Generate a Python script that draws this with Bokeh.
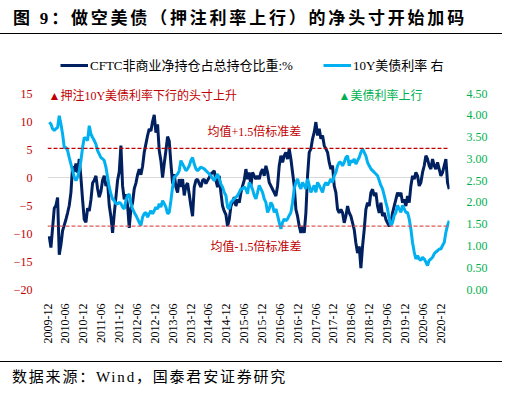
import math
import pandas as pd
from bokeh.plotting import figure
from bokeh.layouts import column
from bokeh.models import (Range1d, LinearAxis, FixedTicker, Span, Label, Legend, LegendItem,
                          DatetimeTickFormatter, NumeralTickFormatter, Div)
from bokeh.embed import file_html
from bokeh.resources import INLINE

# ---------------- data ----------------
title_text = "图 9：做空美债（押注利率上行）的净头寸开始加码"
source_text = "数据来源：Wind，国泰君安证券研究"
series_names = ["CFTC非商业净持仓占总持仓比重:%", "10Y美债利率 右"]
note_left = "▲押注10Y美债利率下行的头寸上升"
note_right = "▲美债利率上行"
band_upper_text = "均值+1.5倍标准差"
band_lower_text = "均值-1.5倍标准差"

tick_labels = ["2009-12", "2010-06", "2010-12", "2011-06", "2011-12", "2012-06",
               "2012-12", "2013-06", "2013-12", "2014-06", "2014-12", "2015-06",
               "2015-12", "2016-06", "2016-12", "2017-06", "2017-12", "2018-06",
               "2018-12", "2019-06", "2019-12", "2020-06", "2020-12"]
left_ticks = [-20, -15, -10, -5, 0, 5, 10, 15]
right_ticks = [0.0, 0.5, 1.0, 1.5, 2.0, 2.5, 3.0, 3.5, 4.0, 4.5]

first_date = "2009-12-18"
last_date = "2021-02-26"

cftc_net_pct = [
    -10.5, -12.5, -9, -5.5, -5, -3.6, -13.8, -12, -9.5, -8.5,
    -7.5, -6.3, -5, -2.7, 2.0, 1.0, 2.5, 0.9, 3.3, 0,
    -4, -7.5, -8, -5.5, -6, -4, -1, -0.5, 0.3, -2,
    -3.5, -2.5, -0.5, 0.3, -1.5, -0.8, -5, -7, -9.9, -6.5,
    -3.5, -0.5, 1, 5.7, -1.5, -3.9, -3, -5, -9, -5.5,
    -4.5, -2, -1, 0.5, 1.5, 0.5, 2, 4.5, 6, 7.5,
    8.7, 8.3, 10, 11.2, 8, 9.5, 4.8, 3, 0, 2.5,
    4.8, 7.3, 6.5, 2.5, -1.1, 0.6, -1.7, -2.7, -0.3, -1.7,
    -0.3, -3.2, -1.5, -1, -3, -5.1, -6.9, -1.7, -0.5, -0.3,
    -1.1, -1.7, -0.5, -0.3, -1.1, -0.5, 0, 0.6, 0.9, 1.2,
    -0.5, -1.7, 0.3, -2.7, -5.1, -6, -6.6, -8.7, -7.5, -5.1,
    -4.5, -3.5, -5.1, -3.9, -4.5, -2.7, -1.5, -0.5, 1.5, -0.3,
    0.9, -1.5, 0.9, 0.3, -0.3, 0.3, -0.3, 0.9, 1.5, 0.3,
    2.1, 0.9, -0.9, -1.5, -2.1, -2.7, -3.3, -1.5, 2.1, 3.9,
    2.7, 3.9, 4.5, 3.3, 5.1, 3.3, 0.9, -1.5, -5.7, -6.9,
    -8.7, -9.9, -8.7, -9.9, -6.3, 0.3, 4.5, 5.1, 6.9, 8.1,
    9.9, 7.5, 8.7, 6.9, 7.5, 5.7, 5.1, 4.5, 2.7, 1.5,
    2.1, -1.5, -2.7, -5.7, -6.3, -5.7, -6.3, -8.1, -6.9, -5.1,
    -6.3, -6.9, -8.1, -9.3, -11.7, -13.5, -12.3, -16.2, -12.3, -9.3,
    -5.7, -4.5, -5.1, -2.7, -2.1, -3.3, -2.7, -5.1, -6.3, -4.5,
    -6.9, -6.3, -7.5, -8.1, -8.7, -8.1, -6.3, -5.1, -3.9, -2.7,
    -3.3, -2.7, -4.5, -3.9, -5.1, -3.3, -4.5, -1.5, 0.3, -0.3,
    0.9, 0.3, -1.5, -0.9, 0.9, 2.1, 3.9, 3.3, 2.1, 1.5,
    3.3, 2.1, 1.5, 2.7, 1.5, 0.3, 0.9, 2.1, 3.3, -0.9,
    -2.1,
]

ust10y_yield = [
    3.84, 3.80, 3.69, 3.65, 3.69, 3.72, 3.99, 3.80, 3.57, 3.26,
    3.26, 3.19, 3.03, 2.88, 2.73, 2.58, 2.50, 2.58, 2.73, 2.96,
    3.26, 3.49, 3.46, 3.42, 3.76, 3.57, 3.49, 3.42, 3.34, 3.19,
    3.11, 3.03, 3.00, 2.96, 2.81, 2.58, 2.35, 2.19, 2.08, 2.04,
    1.97, 1.97, 2.00, 1.97, 1.89, 1.85, 2.04, 2.16, 2.19, 1.97,
    1.85, 1.77, 1.70, 1.62, 1.54, 1.47, 1.66, 1.74, 1.77, 1.66,
    1.74, 1.81, 1.74, 1.81, 1.89, 1.85, 1.97, 1.89, 2.04, 1.97,
    1.89, 1.74, 1.77, 2.04, 2.35, 2.58, 2.61, 2.65, 2.73, 2.96,
    2.88, 2.81, 2.73, 2.77, 2.84, 2.96, 3.03, 2.88, 2.77, 2.73,
    2.77, 2.81, 2.79, 2.77, 2.73, 2.69, 2.65, 2.61, 2.55, 2.50,
    2.58, 2.65, 2.54, 2.42, 2.35, 2.23, 2.16, 1.89, 1.85, 2.00,
    2.04, 2.08, 2.12, 2.16, 2.23, 2.31, 2.31, 2.35, 2.31, 2.20,
    2.46, 2.39, 2.30, 2.16, 2.08, 2.23, 2.39, 2.31, 2.23, 2.08,
    2.00, 1.77, 1.85, 2.00, 1.93, 1.77, 1.85, 1.70, 1.54, 1.39,
    1.54, 1.62, 1.58, 1.62, 1.70, 1.77, 2.00, 2.31, 2.46, 2.54,
    2.39, 2.31, 2.46, 2.39, 2.31, 2.54, 2.39, 2.23, 2.31, 2.39,
    2.23, 2.46, 2.39, 2.31, 2.23, 2.39, 2.46, 2.39, 2.46, 2.54,
    2.46, 2.61, 2.69, 2.84, 2.92, 2.92, 2.84, 2.92, 3.03, 3.07,
    2.84, 2.96, 2.92, 3.00, 2.88, 2.96, 3.03, 3.15, 3.23, 3.15,
    3.07, 2.92, 2.84, 2.77, 2.73, 2.69, 2.65, 2.61, 2.50, 2.39,
    2.31, 2.16, 2.00, 1.85, 1.62, 1.47, 1.54, 1.70, 1.77, 1.93,
    1.85, 1.77, 1.93, 1.85, 1.77, 1.77, 1.62, 1.39, 1.08, 0.86,
    0.70, 0.78, 0.70, 0.67, 0.74, 0.70, 0.63, 0.55, 0.67, 0.70,
    0.74, 0.82, 0.86, 0.89, 0.93, 0.93, 1.01, 1.08, 1.31, 1.47,
    1.58,
]

band_upper = 5.2
band_lower = -8.7

assert len(cftc_net_pct) == len(ust10y_yield)
dates = pd.date_range(first_date, last_date, periods=len(cftc_net_pct))
tick_ms = [int(pd.Timestamp(t + "-01").value // 10**6) for t in tick_labels]

# ---------------- styling / layout ----------------
NAVY = "#002060"
SKY = "#00B0F0"
RED = "#C00000"
GREEN = "#00B050"
SERIF = "Liberation Serif, Noto Sans CJK SC"
CSS_FONT = "'Liberation Serif', 'Noto Sans CJK SC', serif"

W = 509
TOP_H, MAIN_H, BOT_H = 45, 310, 38
F_LEFT, F_WIDTH = 47, 402
F_TOP = 0
Y15_PX = 93 - TOP_H
YM20_PX = 289 - TOP_H
F_BOTTOM_BORDER = MAIN_H - YM20_PX
px_per_unit_l = (YM20_PX - Y15_PX) / (left_ticks[-1] - left_ticks[0])
px_per_unit_r = (YM20_PX - Y15_PX) / (right_ticks[-1] - right_ticks[0])
y_top_l = left_ticks[-1] + (Y15_PX - F_TOP) / px_per_unit_l
y_top_r = right_ticks[-1] + (Y15_PX - F_TOP) / px_per_unit_r


def label(text, x, y, size, color):
    return Label(x=x, y=y, x_units="screen", y_units="screen", text=text,
                 text_font=SERIF, text_font_size=f"{size}px", text_color=color,
                 text_align="left", text_baseline="middle")


# ---- top strip: title + rule ----
top_html = (
    f'<div style="position:relative;width:{W}px;height:{TOP_H}px;">'
    f'<div style="position:absolute;left:13px;top:9px;line-height:20px;font-size:17px;'
    f'font-weight:bold;letter-spacing:2.8px;white-space:nowrap;color:#000;'
    f'font-family:{CSS_FONT};">{title_text}</div>'
    f'<div style="position:absolute;left:0;top:33px;width:502px;height:1px;background:#000;"></div>'
    f'</div>'
)
top = Div(text=top_html, width=W, height=TOP_H, margin=(0, 0, 0, 0))

# ---- main chart ----
p = figure(width=W, height=MAIN_H, output_backend="svg", toolbar_location=None,
           x_axis_type="datetime",
           x_range=Range1d(pd.Timestamp("2009-11-30"), pd.Timestamp("2021-03-01")),
           y_range=Range1d(left_ticks[0], y_top_l),
           min_border_left=F_LEFT, min_border_right=W - F_LEFT - F_WIDTH,
           min_border_top=F_TOP, min_border_bottom=F_BOTTOM_BORDER,
           margin=(0, 0, 0, 0))
p.title.visible = False
p.outline_line_color = None
p.xgrid.visible = False
p.ygrid.visible = False

p.extra_y_ranges = {"yield": Range1d(right_ticks[0], y_top_r)}

ya = p.yaxis[0]
ya.ticker = FixedTicker(ticks=left_ticks)
ya.axis_line_color = None
ya.major_tick_line_color = None
ya.minor_tick_line_color = None
ya.major_label_text_color = RED
ya.major_label_text_font = "Liberation Serif"
ya.major_label_text_font_size = "12px"
ya.major_label_standoff = 9

ra = LinearAxis(y_range_name="yield", ticker=FixedTicker(ticks=right_ticks),
                formatter=NumeralTickFormatter(format="0.00"))
ra.axis_line_color = None
ra.major_tick_line_color = None
ra.minor_tick_line_color = None
ra.major_label_text_color = GREEN
ra.major_label_text_font = "Liberation Serif"
ra.major_label_text_font_size = "12px"
ra.major_label_standoff = 11
p.add_layout(ra, "right")

xa = p.xaxis[0]
xa.ticker = FixedTicker(ticks=tick_ms)
fmt = "%Y-%m"
xa.formatter = DatetimeTickFormatter(milliseconds=fmt, seconds=fmt, minsec=fmt, minutes=fmt,
                                     hourmin=fmt, hours=fmt, days=fmt, months=fmt, years=fmt)
xa.major_label_orientation = math.pi / 2
xa.axis_line_color = None
xa.major_tick_line_color = None
xa.minor_tick_line_color = None
xa.major_label_text_font = "Liberation Serif"
xa.major_label_text_font_size = "12px"
xa.major_label_text_color = "black"
xa.major_label_standoff = 8

p.add_layout(Span(location=0, dimension="width", line_color="#D9D9D9", line_width=1, level="underlay"))

r1 = p.line(dates, cftc_net_pct, line_color=NAVY, line_width=3)
r2 = p.line(dates, ust10y_yield, line_color=SKY, line_width=3, y_range_name="yield")

p.add_layout(Span(location=band_upper, dimension="width", line_color=RED, line_width=1.3, line_dash="4 2"))
p.add_layout(Span(location=band_lower, dimension="width", line_color="#E05A5A", line_width=1.3, line_dash="4 2"))

legend = Legend(items=[LegendItem(label=series_names[0], renderers=[r1]),
                       LegendItem(label=series_names[1], renderers=[r2])],
                orientation="horizontal", location=(13, 215), padding=0, margin=0, spacing=30,
                glyph_width=28, glyph_height=14, label_height=14, label_standoff=2,
                border_line_color=None, background_fill_alpha=0,
                label_text_font=SERIF, label_text_font_size="13px", label_text_color="black")
p.add_layout(legend)

p.add_layout(label(note_left, 1, 194, 12, RED))
p.add_layout(label(note_right, 291, 194, 12, GREEN))
p.add_layout(label(band_upper_text, 160, 158, 12, RED))
p.add_layout(label(band_lower_text, 163, 43, 12, RED))

# ---- bottom strip: rule + source ----
bot_html = (
    f'<div style="position:relative;width:{W}px;height:{BOT_H}px;">'
    f'<div style="position:absolute;left:0;top:6px;width:502px;height:1px;background:#000;"></div>'
    f'<div style="position:absolute;left:12px;top:12px;line-height:20px;font-size:15px;'
    f'letter-spacing:1.8px;white-space:nowrap;color:#000;font-family:{CSS_FONT};">{source_text}</div>'
    f'</div>'
)
bot = Div(text=bot_html, width=W, height=BOT_H, margin=(0, 0, 0, 0))

layout = column(top, p, bot, spacing=0)
open("out.html", "w").write(file_html(layout, INLINE))
